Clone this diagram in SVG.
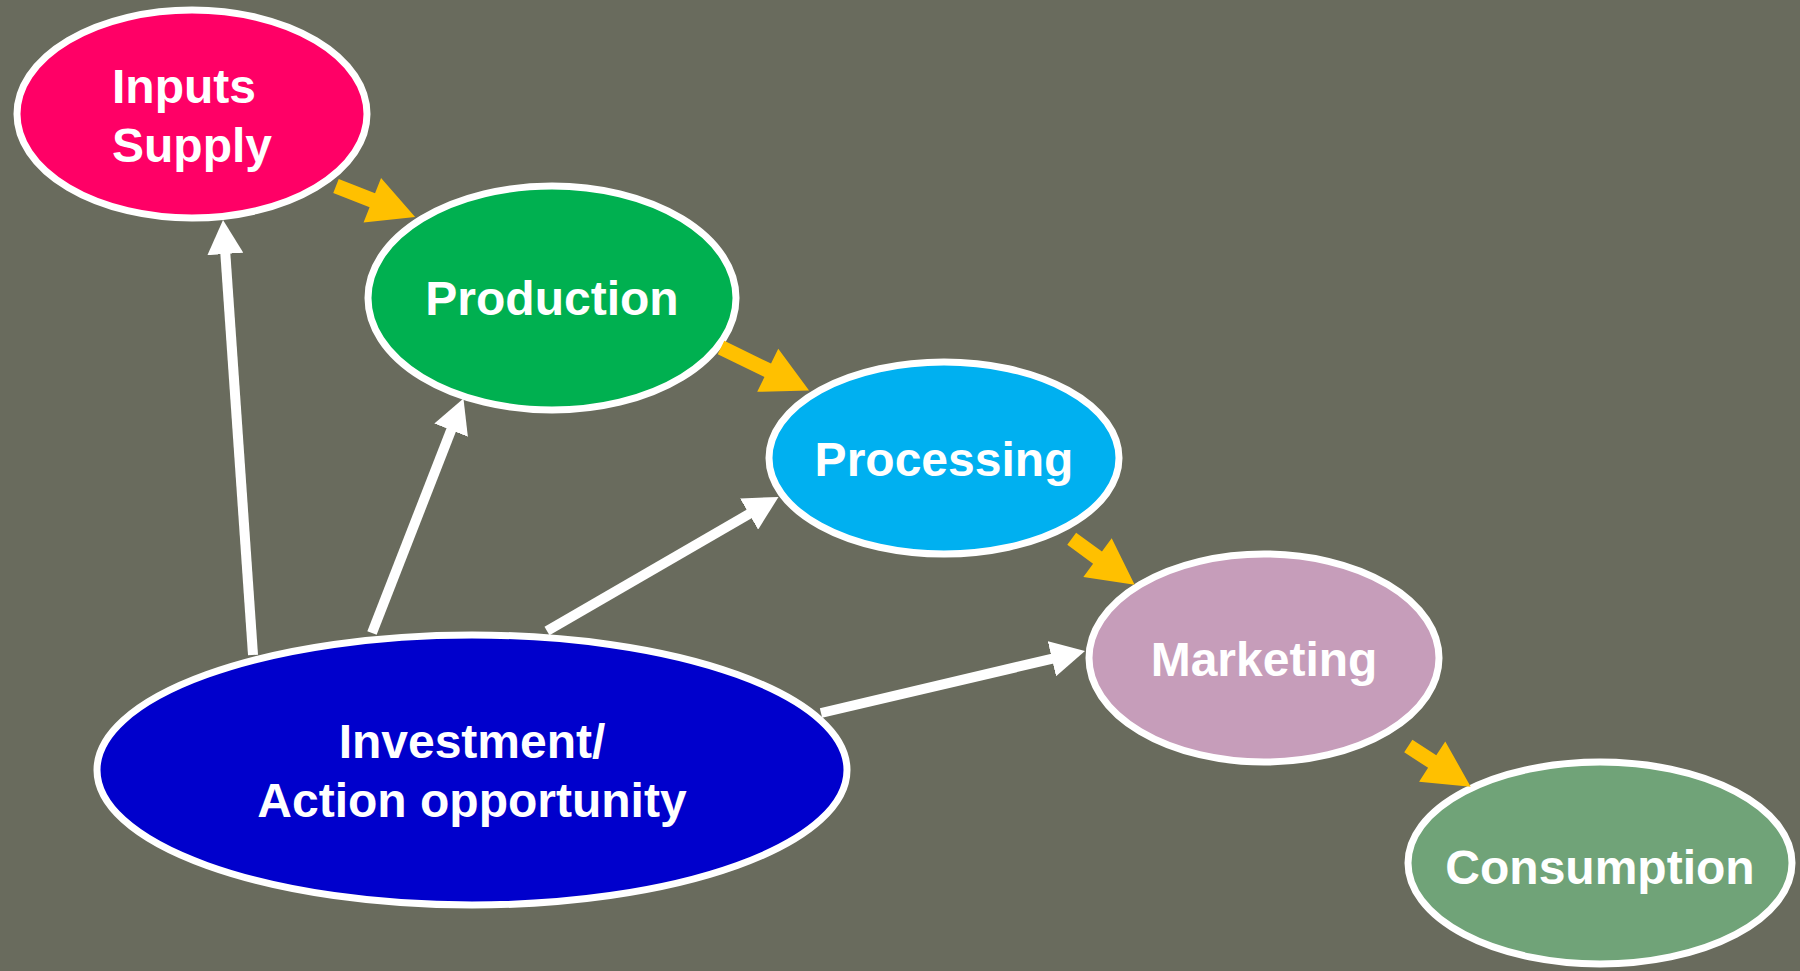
<svg xmlns="http://www.w3.org/2000/svg" width="1800" height="971" viewBox="0 0 1800 971">
<style>
.node{stroke:#FFFFFF;stroke-width:7}
.lbl{font-family:"Liberation Sans",Arial,sans-serif;font-weight:bold;font-size:48px;fill:#FFFFFF;text-anchor:middle}
.lbl-start{text-anchor:start}
.wline{stroke:#FFFFFF;stroke-width:10;fill:none;marker-end:url(#wh)}
.yarrow{fill:#FFC000}
</style>
<defs>
<marker id="wh" markerUnits="userSpaceOnUse" viewBox="0 0 34 36" markerWidth="34" markerHeight="36" refX="14" refY="18" orient="auto">
<path d="M0,0 L34,18 L0,36 Z" fill="#FFFFFF"/>
</marker>
</defs>
<rect width="1800" height="971" fill="#696B5D"/>
<g id="nodes">
<g id="inputs"><ellipse class="node" cx="192" cy="114" rx="175" ry="104" fill="#FF0066"/>
<text class="lbl lbl-start" x="112" y="103">Inputs</text>
<text class="lbl lbl-start" x="112" y="162">Supply</text></g>
<g id="production"><ellipse class="node" cx="552" cy="298" rx="184" ry="112" fill="#00B050"/>
<text class="lbl" x="552" y="315">Production</text></g>
<g id="processing"><ellipse class="node" cx="944" cy="458" rx="175" ry="96" fill="#00B0F0"/>
<text class="lbl" x="944" y="476">Processing</text></g>
<g id="marketing"><ellipse class="node" cx="1264" cy="658" rx="175" ry="104" fill="#C69DBA"/>
<text class="lbl" x="1264" y="676">Marketing</text></g>
<g id="consumption"><ellipse class="node" cx="1600" cy="863" rx="192" ry="101" fill="#70A378"/>
<text class="lbl" x="1600" y="884">Consumption</text></g>
<g id="investment"><ellipse class="node" cx="472" cy="770" rx="375" ry="135" fill="#0000CC"/>
<text class="lbl" x="472" y="758">Investment/</text>
<text class="lbl" x="472" y="817">Action opportunity</text></g>
</g>
<g id="connectors">
<line class="wline" x1="253" y1="655" x2="224.4" y2="240"/>
<line class="wline" x1="372" y1="633" x2="456.2" y2="417.1"/>
<line class="wline" x1="547" y1="631" x2="761.2" y2="507"/>
<line class="wline" x1="821" y1="713" x2="1065.5" y2="655.6"/>
<polygon class="yarrow" transform="translate(336,186) rotate(21.4)" points="0,-7.5 39,-7.5 39,-24 85,0 39,24 39,7.5 0,7.5"/>
<polygon class="yarrow" transform="translate(721,347.5) rotate(26)" points="0,-7.5 52,-7.5 52,-24 98,0 52,24 52,7.5 0,7.5"/>
<polygon class="yarrow" transform="translate(1071.7,538.7) rotate(36.2)" points="0,-7.5 32,-7.5 32,-24 78,0 32,24 32,7.5 0,7.5"/>
<polygon class="yarrow" transform="translate(1408.3,746) rotate(33.1)" points="0,-7.5 28.5,-7.5 28.5,-24 74.5,0 28.5,24 28.5,7.5 0,7.5"/>
</g>
</svg>
